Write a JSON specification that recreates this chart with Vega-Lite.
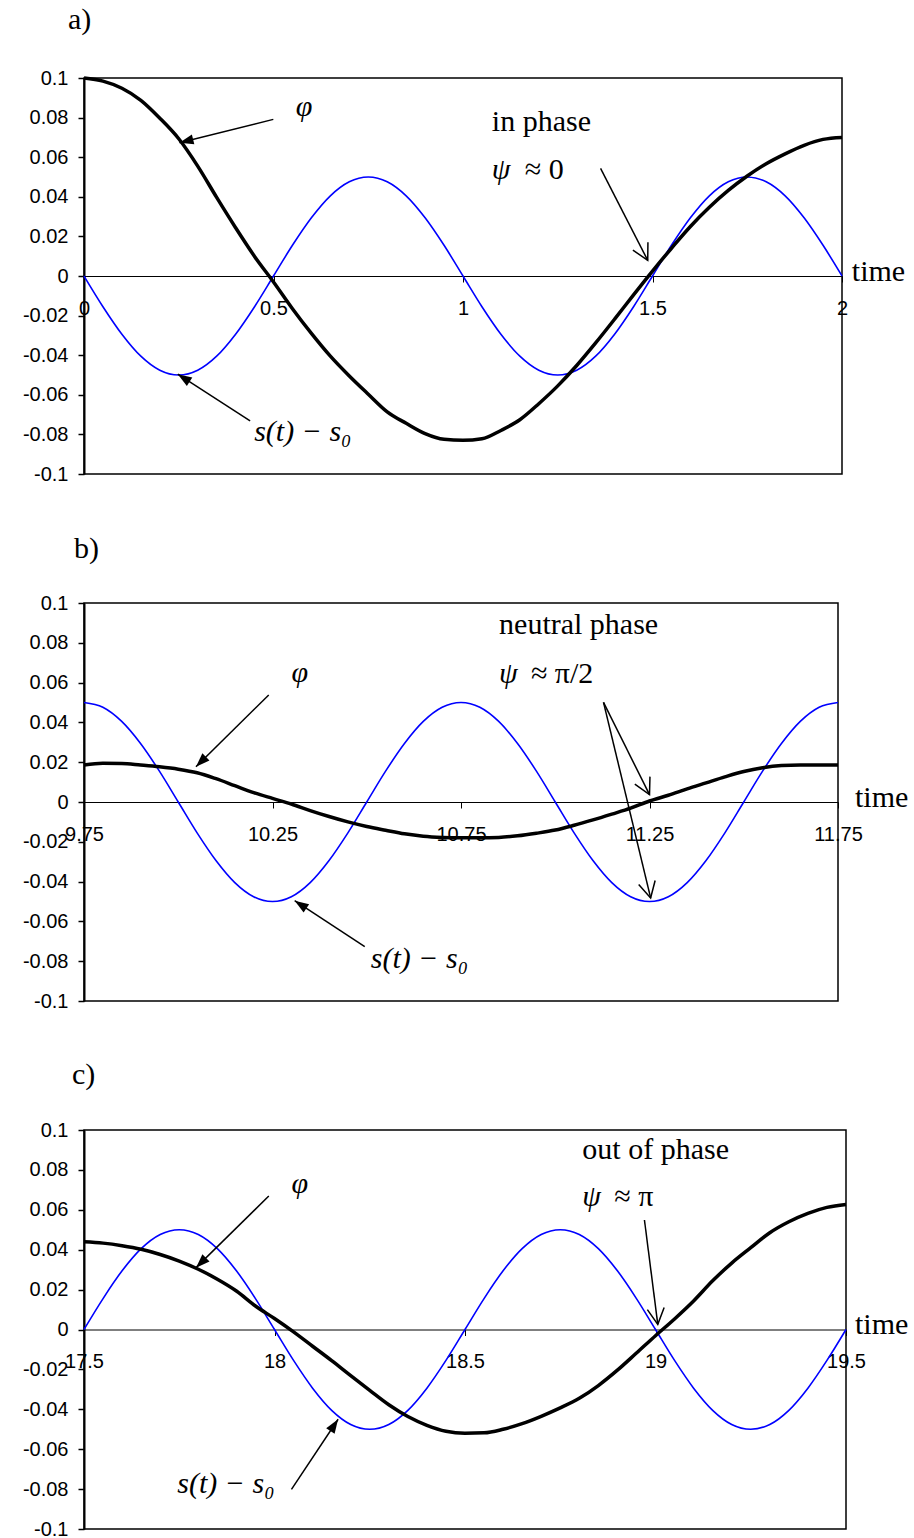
{
"$schema": "https://vega.github.io/schema/vega-lite/v6.json",
"background": "white",
"padding": {"left": 21, "top": 4, "right": 0, "bottom": 0},
"autosize": {"type": "pad"},
"spacing": 129,
"bounds": "flush",
"datasets": {
"a_s": [{"t":0,"v":0},{"t":0.05,"v":-0.0155},{"t":0.1,"v":-0.0294},{"t":0.15,"v":-0.0405},{"t":0.2,"v":-0.0476},{"t":0.25,"v":-0.05},{"t":0.3,"v":-0.0476},{"t":0.35,"v":-0.0405},{"t":0.4,"v":-0.0294},{"t":0.45,"v":-0.0155},{"t":0.5,"v":0},{"t":0.55,"v":0.0155},{"t":0.6,"v":0.0294},{"t":0.65,"v":0.0405},{"t":0.7,"v":0.0476},{"t":0.75,"v":0.05},{"t":0.8,"v":0.0476},{"t":0.85,"v":0.0405},{"t":0.9,"v":0.0294},{"t":0.95,"v":0.0155},{"t":1,"v":0},{"t":1.05,"v":-0.0155},{"t":1.1,"v":-0.0294},{"t":1.15,"v":-0.0405},{"t":1.2,"v":-0.0476},{"t":1.25,"v":-0.05},{"t":1.3,"v":-0.0476},{"t":1.35,"v":-0.0405},{"t":1.4,"v":-0.0294},{"t":1.45,"v":-0.0155},{"t":1.5,"v":0},{"t":1.55,"v":0.0155},{"t":1.6,"v":0.0294},{"t":1.65,"v":0.0405},{"t":1.7,"v":0.0476},{"t":1.75,"v":0.05},{"t":1.8,"v":0.0476},{"t":1.85,"v":0.0405},{"t":1.9,"v":0.0294},{"t":1.95,"v":0.0155},{"t":2,"v":0}],
"a_phi": [{"t":0,"v":0.1},{"t":0.05,"v":0.0984},{"t":0.1,"v":0.0948},{"t":0.15,"v":0.0887},{"t":0.2,"v":0.0797},{"t":0.25,"v":0.0693},{"t":0.3,"v":0.0555},{"t":0.35,"v":0.0397},{"t":0.4,"v":0.0244},{"t":0.45,"v":0.0099},{"t":0.5,"v":-0.003},{"t":0.55,"v":-0.0165},{"t":0.6,"v":-0.029},{"t":0.65,"v":-0.0405},{"t":0.7,"v":-0.0505},{"t":0.75,"v":-0.0597},{"t":0.8,"v":-0.0686},{"t":0.85,"v":-0.0744},{"t":0.9,"v":-0.0796},{"t":0.95,"v":-0.0825},{"t":1,"v":-0.083},{"t":1.05,"v":-0.0822},{"t":1.1,"v":-0.078},{"t":1.15,"v":-0.0726},{"t":1.2,"v":-0.0645},{"t":1.25,"v":-0.0555},{"t":1.3,"v":-0.0452},{"t":1.35,"v":-0.0338},{"t":1.4,"v":-0.0218},{"t":1.45,"v":-0.0095},{"t":1.5,"v":0.0025},{"t":1.55,"v":0.014},{"t":1.6,"v":0.025},{"t":1.65,"v":0.0347},{"t":1.7,"v":0.0432},{"t":1.75,"v":0.0505},{"t":1.8,"v":0.0567},{"t":1.85,"v":0.0617},{"t":1.9,"v":0.066},{"t":1.95,"v":0.069},{"t":2,"v":0.07}],
"a_arr": [{"t":0.4995,"v":0.0791,"t2":0.252,"v2":0.0673},{"t":0.4383,"v":-0.0732,"t2":0.2475,"v2":-0.0496},{"t":1.363,"v":0.0544,"t2":1.4874,"v2":0.0079}],
"a_it": [{"t":0.559,"v":0.0808,"label":"φ"},{"t":1.076,"v":0.049,"label":"ψ"},{"t":0.449,"v":-0.0833,"label":"s(t) − s₀"}],
"a_up": [{"t":-0.0422,"v":0.1247,"label":"a)"},{"t":1.076,"v":0.0732,"label":"in phase"},{"t":1.1627,"v":0.049,"label":"≈ 0"},{"t":2.026,"v":-0.0025,"label":"time"}],
"b_s": [{"t":9.75,"v":0.05},{"t":9.8,"v":0.0476},{"t":9.85,"v":0.0405},{"t":9.9,"v":0.0294},{"t":9.95,"v":0.0155},{"t":10,"v":0},{"t":10.05,"v":-0.0155},{"t":10.1,"v":-0.0294},{"t":10.15,"v":-0.0405},{"t":10.2,"v":-0.0476},{"t":10.25,"v":-0.05},{"t":10.3,"v":-0.0476},{"t":10.35,"v":-0.0405},{"t":10.4,"v":-0.0294},{"t":10.45,"v":-0.0155},{"t":10.5,"v":0},{"t":10.55,"v":0.0155},{"t":10.6,"v":0.0294},{"t":10.65,"v":0.0405},{"t":10.7,"v":0.0476},{"t":10.75,"v":0.05},{"t":10.8,"v":0.0476},{"t":10.85,"v":0.0405},{"t":10.9,"v":0.0294},{"t":10.95,"v":0.0155},{"t":11,"v":0},{"t":11.05,"v":-0.0155},{"t":11.1,"v":-0.0294},{"t":11.15,"v":-0.0405},{"t":11.2,"v":-0.0476},{"t":11.25,"v":-0.05},{"t":11.3,"v":-0.0476},{"t":11.35,"v":-0.0405},{"t":11.4,"v":-0.0294},{"t":11.45,"v":-0.0155},{"t":11.5,"v":0},{"t":11.55,"v":0.0155},{"t":11.6,"v":0.0294},{"t":11.65,"v":0.0405},{"t":11.7,"v":0.0476},{"t":11.75,"v":0.05}],
"b_phi": [{"t":9.75,"v":0.0186},{"t":9.8,"v":0.0195},{"t":9.85,"v":0.0194},{"t":9.9,"v":0.0186},{"t":9.95,"v":0.0177},{"t":10,"v":0.0165},{"t":10.05,"v":0.0147},{"t":10.1,"v":0.0117},{"t":10.15,"v":0.0082},{"t":10.2,"v":0.0047},{"t":10.25,"v":0.0018},{"t":10.3,"v":-0.001},{"t":10.35,"v":-0.0043},{"t":10.4,"v":-0.0073},{"t":10.45,"v":-0.01},{"t":10.5,"v":-0.0123},{"t":10.55,"v":-0.0142},{"t":10.6,"v":-0.016},{"t":10.65,"v":-0.0172},{"t":10.7,"v":-0.0178},{"t":10.75,"v":-0.018},{"t":10.8,"v":-0.018},{"t":10.85,"v":-0.0178},{"t":10.9,"v":-0.017},{"t":10.95,"v":-0.0157},{"t":11,"v":-0.0141},{"t":11.05,"v":-0.0117},{"t":11.1,"v":-0.009},{"t":11.15,"v":-0.0061},{"t":11.2,"v":-0.0031},{"t":11.25,"v":0.0005},{"t":11.3,"v":0.0034},{"t":11.35,"v":0.0066},{"t":11.4,"v":0.0096},{"t":11.45,"v":0.0126},{"t":11.5,"v":0.0153},{"t":11.55,"v":0.0172},{"t":11.6,"v":0.0183},{"t":11.65,"v":0.0186},{"t":11.7,"v":0.0186},{"t":11.75,"v":0.0186}],
"b_arr": [{"t":10.24,"v":0.0538,"t2":10.047,"v2":0.0177},{"t":10.4947,"v":-0.0727,"t2":10.3088,"v2":-0.0496},{"t":11.128,"v":0.0501,"t2":11.25,"v2":0.0037},{"t":11.128,"v":0.0501,"t2":11.253,"v2":-0.0482}],
"b_it": [{"t":10.3005,"v":0.0603,"label":"φ"},{"t":10.851,"v":0.0598,"label":"ψ"},{"t":10.5106,"v":-0.0834,"label":"s(t) − s₀"}],
"b_up": [{"t":9.7235,"v":0.1228,"label":"b)"},{"t":10.851,"v":0.0844,"label":"neutral phase"},{"t":10.9354,"v":0.0598,"label":"≈ π/2"},{"t":11.795,"v":-0.0025,"label":"time"}],
"c_s": [{"t":17.5,"v":0},{"t":17.55,"v":0.0155},{"t":17.6,"v":0.0294},{"t":17.65,"v":0.0405},{"t":17.7,"v":0.0476},{"t":17.75,"v":0.05},{"t":17.8,"v":0.0476},{"t":17.85,"v":0.0405},{"t":17.9,"v":0.0294},{"t":17.95,"v":0.0155},{"t":18,"v":0},{"t":18.05,"v":-0.0155},{"t":18.1,"v":-0.0294},{"t":18.15,"v":-0.0405},{"t":18.2,"v":-0.0476},{"t":18.25,"v":-0.05},{"t":18.3,"v":-0.0476},{"t":18.35,"v":-0.0405},{"t":18.4,"v":-0.0294},{"t":18.45,"v":-0.0155},{"t":18.5,"v":0},{"t":18.55,"v":0.0155},{"t":18.6,"v":0.0294},{"t":18.65,"v":0.0405},{"t":18.7,"v":0.0476},{"t":18.75,"v":0.05},{"t":18.8,"v":0.0476},{"t":18.85,"v":0.0405},{"t":18.9,"v":0.0294},{"t":18.95,"v":0.0155},{"t":19,"v":0},{"t":19.05,"v":-0.0155},{"t":19.1,"v":-0.0294},{"t":19.15,"v":-0.0405},{"t":19.2,"v":-0.0476},{"t":19.25,"v":-0.05},{"t":19.3,"v":-0.0476},{"t":19.35,"v":-0.0405},{"t":19.4,"v":-0.0294},{"t":19.45,"v":-0.0155},{"t":19.5,"v":0}],
"c_phi": [{"t":17.5,"v":0.044},{"t":17.55,"v":0.0433},{"t":17.6,"v":0.042},{"t":17.65,"v":0.0402},{"t":17.7,"v":0.0376},{"t":17.75,"v":0.0343},{"t":17.8,"v":0.0302},{"t":17.85,"v":0.0252},{"t":17.9,"v":0.0193},{"t":17.95,"v":0.0118},{"t":18,"v":0.0055},{"t":18.05,"v":-0.0012},{"t":18.1,"v":-0.0084},{"t":18.15,"v":-0.0156},{"t":18.2,"v":-0.0231},{"t":18.25,"v":-0.0305},{"t":18.3,"v":-0.0377},{"t":18.35,"v":-0.0436},{"t":18.4,"v":-0.048},{"t":18.45,"v":-0.051},{"t":18.5,"v":-0.052},{"t":18.55,"v":-0.0518},{"t":18.6,"v":-0.05},{"t":18.65,"v":-0.0472},{"t":18.7,"v":-0.0435},{"t":18.75,"v":-0.0393},{"t":18.8,"v":-0.0345},{"t":18.85,"v":-0.0281},{"t":18.9,"v":-0.0204},{"t":18.95,"v":-0.0118},{"t":19,"v":-0.0031},{"t":19.05,"v":0.0053},{"t":19.1,"v":0.0143},{"t":19.15,"v":0.0244},{"t":19.2,"v":0.0333},{"t":19.25,"v":0.041},{"t":19.3,"v":0.0485},{"t":19.35,"v":0.054},{"t":19.4,"v":0.0582},{"t":19.45,"v":0.0612},{"t":19.5,"v":0.0627}],
"c_arr": [{"t":17.985,"v":0.0669,"t2":17.794,"v2":0.031},{"t":18.0445,"v":-0.0801,"t2":18.167,"v2":-0.045},{"t":18.971,"v":0.0549,"t2":19.006,"v2":0.0026}],
"c_it": [{"t":18.0447,"v":0.0684,"label":"φ"},{"t":18.808,"v":0.0619,"label":"ψ"},{"t":17.745,"v":-0.082,"label":"s(t) − s₀"}],
"c_up": [{"t":17.4685,"v":0.1231,"label":"c)"},{"t":18.808,"v":0.0855,"label":"out of phase"},{"t":18.892,"v":0.0619,"label":"≈ π"},{"t":19.5237,"v":-0.0025,"label":"time"}]
},
"vconcat": [
{
"width": 758, "height": 396,
"encoding": {
"x": {"field": "t", "type": "quantitative", "scale": {"domain": [0, 2], "nice": false, "zero": false},
 "axis": {"orient": "bottom", "offset": -198, "values": [0, 0.5, 1, 1.5, 2], "labelExpr": "format(datum.value, '~g')", "title": null, "tickSize": 6, "tickWidth": 1, "labelPadding": 16, "labelFlush": false, "labelOverlap": false, "domainWidth": 1}},
"y": {"field": "v", "type": "quantitative", "scale": {"domain": [-0.1, 0.1], "nice": false, "zero": false},
 "axis": {"values": [-0.1, -0.08, -0.06, -0.04, -0.02, 0, 0.02, 0.04, 0.06, 0.08, 0.1], "labelExpr": "(datum.value < 0 ? '-' : '') + format(abs(datum.value), '~g')", "title": null, "tickSize": 6, "tickWidth": 1.5, "labelPadding": 10, "domainWidth": 2, "labelFlush": false, "labelOverlap": false}}
},
"layer": [
{"data": {"name": "a_s"}, "mark": {"type": "line", "color": "#0000ff", "strokeWidth": 1.6, "interpolate": "monotone"}},
{"data": {"name": "a_phi"}, "mark": {"type": "line", "color": "#000000", "strokeWidth": 3.5, "interpolate": "monotone"}},
{"data": {"name": "a_arr"}, "mark": {"type": "rule", "color": "#000000", "strokeWidth": 1.5}, "encoding": {"x2": {"field": "t2"}, "y2": {"field": "v2"}}},
{"data": {"values": [{"t": 0.252, "v": 0.0673}]}, "mark": {"type": "point", "shape": "M0,0L-0.72,2L0.72,2Z", "size": 196, "filled": true, "color": "#000000", "opacity": 1, "angle": 256}},
{"data": {"values": [{"t": 0.2475, "v": -0.0496}]}, "mark": {"type": "point", "shape": "M0,0L-0.72,2L0.72,2Z", "size": 196, "filled": true, "color": "#000000", "opacity": 1, "angle": 302.7}},
{"data": {"values": [{"t": 1.4874, "v": 0.0079}]}, "mark": {"type": "point", "shape": "M-0.94,1.77L0,0L0.94,1.77", "size": 324, "filled": false, "color": "#000000", "strokeWidth": 1.5, "opacity": 1, "angle": 152.7}},
{"data": {"name": "a_it"}, "mark": {"type": "text", "font": "Liberation Serif", "fontStyle": "italic", "fontSize": 30, "align": "left", "baseline": "alphabetic", "color": "#000000"}, "encoding": {"text": {"field": "label"}}},
{"data": {"name": "a_up"}, "mark": {"type": "text", "font": "Liberation Serif", "fontSize": 30, "align": "left", "baseline": "alphabetic", "color": "#000000"}, "encoding": {"text": {"field": "label"}}}
]
},
{
"width": 754, "height": 398,
"encoding": {
"x": {"field": "t", "type": "quantitative", "scale": {"domain": [9.75, 11.75], "nice": false, "zero": false},
 "axis": {"orient": "bottom", "offset": -199, "values": [9.75, 10.25, 10.75, 11.25, 11.75], "labelExpr": "format(datum.value, '~g')", "title": null, "tickSize": 6, "tickWidth": 1, "labelPadding": 16, "labelFlush": false, "labelOverlap": false, "domainWidth": 1}},
"y": {"field": "v", "type": "quantitative", "scale": {"domain": [-0.1, 0.1], "nice": false, "zero": false},
 "axis": {"values": [-0.1, -0.08, -0.06, -0.04, -0.02, 0, 0.02, 0.04, 0.06, 0.08, 0.1], "labelExpr": "(datum.value < 0 ? '-' : '') + format(abs(datum.value), '~g')", "title": null, "tickSize": 6, "tickWidth": 1.5, "labelPadding": 10, "domainWidth": 2, "labelFlush": false, "labelOverlap": false}}
},
"layer": [
{"data": {"name": "b_s"}, "mark": {"type": "line", "color": "#0000ff", "strokeWidth": 1.6, "interpolate": "monotone"}},
{"data": {"name": "b_phi"}, "mark": {"type": "line", "color": "#000000", "strokeWidth": 3.5, "interpolate": "monotone"}},
{"data": {"name": "b_arr"}, "mark": {"type": "rule", "color": "#000000", "strokeWidth": 1.5}, "encoding": {"x2": {"field": "t2"}, "y2": {"field": "v2"}}},
{"data": {"values": [{"t": 10.047, "v": 0.0177}]}, "mark": {"type": "point", "shape": "M0,0L-0.72,2L0.72,2Z", "size": 196, "filled": true, "color": "#000000", "opacity": 1, "angle": 225.3}},
{"data": {"values": [{"t": 10.3088, "v": -0.0496}]}, "mark": {"type": "point", "shape": "M0,0L-0.72,2L0.72,2Z", "size": 196, "filled": true, "color": "#000000", "opacity": 1, "angle": 303.3}},
{"data": {"values": [{"t": 11.25, "v": 0.0037}]}, "mark": {"type": "point", "shape": "M-0.94,1.77L0,0L0.94,1.77", "size": 324, "filled": false, "color": "#000000", "strokeWidth": 1.5, "opacity": 1, "angle": 153.5}},
{"data": {"values": [{"t": 11.253, "v": -0.0482}]}, "mark": {"type": "point", "shape": "M-0.94,1.77L0,0L0.94,1.77", "size": 324, "filled": false, "color": "#000000", "strokeWidth": 1.5, "opacity": 1, "angle": 166.5}},
{"data": {"name": "b_it"}, "mark": {"type": "text", "font": "Liberation Serif", "fontStyle": "italic", "fontSize": 30, "align": "left", "baseline": "alphabetic", "color": "#000000"}, "encoding": {"text": {"field": "label"}}},
{"data": {"name": "b_up"}, "mark": {"type": "text", "font": "Liberation Serif", "fontSize": 30, "align": "left", "baseline": "alphabetic", "color": "#000000"}, "encoding": {"text": {"field": "label"}}}
]
},
{
"width": 762, "height": 399,
"encoding": {
"x": {"field": "t", "type": "quantitative", "scale": {"domain": [17.5, 19.5], "nice": false, "zero": false},
 "axis": {"orient": "bottom", "offset": -199.5, "values": [17.5, 18, 18.5, 19, 19.5], "labelExpr": "format(datum.value, '~g')", "title": null, "tickSize": 6, "tickWidth": 1, "labelPadding": 16, "labelFlush": false, "labelOverlap": false, "domainWidth": 1}},
"y": {"field": "v", "type": "quantitative", "scale": {"domain": [-0.1, 0.1], "nice": false, "zero": false},
 "axis": {"values": [-0.1, -0.08, -0.06, -0.04, -0.02, 0, 0.02, 0.04, 0.06, 0.08, 0.1], "labelExpr": "(datum.value < 0 ? '-' : '') + format(abs(datum.value), '~g')", "title": null, "tickSize": 6, "tickWidth": 1.5, "labelPadding": 10, "domainWidth": 2, "labelFlush": false, "labelOverlap": false}}
},
"layer": [
{"data": {"name": "c_s"}, "mark": {"type": "line", "color": "#0000ff", "strokeWidth": 1.6, "interpolate": "monotone"}},
{"data": {"name": "c_phi"}, "mark": {"type": "line", "color": "#000000", "strokeWidth": 3.5, "interpolate": "monotone"}},
{"data": {"name": "c_arr"}, "mark": {"type": "rule", "color": "#000000", "strokeWidth": 1.5}, "encoding": {"x2": {"field": "t2"}, "y2": {"field": "v2"}}},
{"data": {"values": [{"t": 17.794, "v": 0.031}]}, "mark": {"type": "point", "shape": "M0,0L-0.72,2L0.72,2Z", "size": 196, "filled": true, "color": "#000000", "opacity": 1, "angle": 225.3}},
{"data": {"values": [{"t": 18.167, "v": -0.045}]}, "mark": {"type": "point", "shape": "M0,0L-0.72,2L0.72,2Z", "size": 196, "filled": true, "color": "#000000", "opacity": 1, "angle": 33.6}},
{"data": {"values": [{"t": 19.006, "v": 0.0026}]}, "mark": {"type": "point", "shape": "M-0.94,1.77L0,0L0.94,1.77", "size": 324, "filled": false, "color": "#000000", "strokeWidth": 1.5, "opacity": 1, "angle": 172.7}},
{"data": {"name": "c_it"}, "mark": {"type": "text", "font": "Liberation Serif", "fontStyle": "italic", "fontSize": 30, "align": "left", "baseline": "alphabetic", "color": "#000000"}, "encoding": {"text": {"field": "label"}}},
{"data": {"name": "c_up"}, "mark": {"type": "text", "font": "Liberation Serif", "fontSize": 30, "align": "left", "baseline": "alphabetic", "color": "#000000"}, "encoding": {"text": {"field": "label"}}}
]
}
],
"config": {
"view": {"stroke": "#000000", "strokeWidth": 1.5},
"axis": {"labelFont": "Liberation Sans", "labelFontSize": 20, "labelColor": "#000000", "tickColor": "#000000", "domainColor": "#000000", "grid": false}
}
}
